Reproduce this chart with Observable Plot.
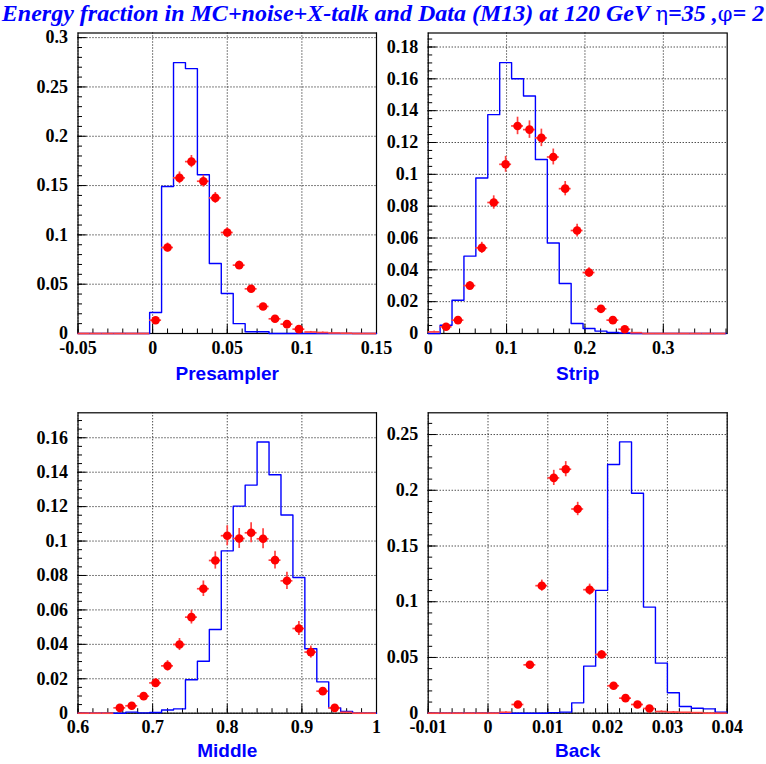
<!DOCTYPE html>
<html><head><meta charset="utf-8">
<script src="https://cdn.jsdelivr.net/npm/d3@7"></script>
<script src="https://cdn.jsdelivr.net/npm/@observablehq/plot@0.6"></script>
<style>
html,body{margin:0;padding:0;background:#fff;}
#root{position:relative;width:766px;height:764px;overflow:hidden;background:#fff;}
#root svg{position:absolute;}
#title{position:absolute;left:0;top:-1px;width:766px;text-align:center;font:italic bold 24px "Liberation Serif","Times New Roman",serif;line-height:28px;color:#0000ff;white-space:nowrap;z-index:5;}
#title .g{font-style:normal;font-weight:normal;font-family:"DejaVu Serif","Liberation Serif",serif;font-size:21px;}
</style></head><body>
<div id="root"><div id="title">Energy fraction in MC+noise+X-talk and Data (M13) at 120 GeV <span class="g">η</span>=35 ,<span class="g">φ</span>= 2</div></div>
<script>
// ---------- Presampler ----------
const preCenters = [-0.046,-0.038,-0.030,-0.022,-0.014,-0.006,0.002,0.010,0.018,0.026,0.034,0.042,0.050,0.058,0.066,0.074,0.082,0.090,0.098,0.106,0.114,0.122,0.130,0.138,0.146];
const preMC   = [0,0,0,0,0,0,0.0213,0.149,0.2747,0.2686,0.161,0.071,0.0405,0.010,0.0017,0.0017,0,0,0,0,0,0,0,0,0];
const preData = [0,0,0,0,0,0,0.0135,0.0872,0.1578,0.1743,0.1544,0.1375,0.1024,0.0693,0.0453,0.0274,0.0149,0.0095,0.0044,0.0015,0.001,0.0005,0.0003,0,0];
const preErr  = [0,0,0,0,0,0,0.002,0.0045,0.006,0.0062,0.006,0.0055,0.0048,0.004,0.003,0.0025,0.0018,0.0015,0.001,0.0006,0.0005,0,0,0,0];
const preXTicks = [-0.05,0,0.05,0.1,0.15];
const preXLabels = ["-0.05","0","0.05","0.1","0.15"];
const preYTicks = [0,0.05,0.1,0.15,0.2,0.25,0.3];
const preYLabels = ["0","0.05","0.1","0.15","0.2","0.25","0.3"];

// ---------- Strip ----------
const stripCenters = [0.0076,0.0228,0.0380,0.0532,0.0684,0.0836,0.0988,0.1140,0.1292,0.1444,0.1596,0.1748,0.1900,0.2052,0.2204,0.2356,0.2508,0.2660,0.2812,0.2964,0.3116,0.3268,0.3420,0.3572,0.3724];
const stripMC   = [0,0.0052,0.0209,0.0486,0.0977,0.1375,0.1702,0.1601,0.1492,0.1093,0.0569,0.0314,0.0063,0.0031,0.0015,0.0006,0.0003,0,0,0,0,0,0,0,0];
const stripData = [0.001,0.0042,0.0084,0.0301,0.0538,0.0823,0.1063,0.1304,0.1281,0.1229,0.1109,0.0910,0.0647,0.0383,0.0155,0.0084,0.0027,0.0005,0,0,0,0,0,0,0];
const stripErr  = [0.0005,0.001,0.0015,0.0025,0.0035,0.0042,0.005,0.0055,0.0055,0.0055,0.005,0.0045,0.004,0.003,0.002,0.0015,0.0008,0,0,0,0,0,0,0,0];
const stripXTicks = [0,0.1,0.2,0.3];
const stripXLabels = ["0","0.1","0.2","0.3"];
const stripYTicks = [0,0.02,0.04,0.06,0.08,0.1,0.12,0.14,0.16,0.18];
const stripYLabels = ["0","0.02","0.04","0.06","0.08","0.1","0.12","0.14","0.16","0.18"];

// ---------- Middle ----------
const midCenters = [0.608,0.624,0.640,0.656,0.672,0.688,0.704,0.720,0.736,0.752,0.768,0.784,0.800,0.816,0.832,0.848,0.864,0.880,0.896,0.912,0.928,0.944,0.960,0.976,0.992];
const midMC   = [0,0,0,0,0.0006,0.0002,0.0004,0.0019,0.0025,0.0194,0.0302,0.0486,0.0943,0.1203,0.1325,0.1575,0.1385,0.1151,0.0788,0.0374,0.0182,0.0031,0.001,0,0];
const midData = [0,0,0,0.0031,0.0043,0.0099,0.0176,0.0275,0.0399,0.0558,0.0723,0.0887,0.1031,0.1015,0.1048,0.1013,0.0889,0.0769,0.0492,0.0355,0.0128,0.0031,0.0005,0,0];
const midErr  = [0,0,0,0.001,0.0012,0.0018,0.0025,0.003,0.0035,0.004,0.0045,0.005,0.0058,0.0058,0.0058,0.0058,0.0052,0.005,0.004,0.0035,0.002,0.001,0,0,0];
const midXTicks = [0.6,0.7,0.8,0.9,1];
const midXLabels = ["0.6","0.7","0.8","0.9","1"];
const midYTicks = [0,0.02,0.04,0.06,0.08,0.1,0.12,0.14,0.16];
const midYLabels = ["0","0.02","0.04","0.06","0.08","0.1","0.12","0.14","0.16"];

// ---------- Back ----------
const backCenters = [-0.009,-0.007,-0.005,-0.003,-0.001,0.001,0.003,0.005,0.007,0.009,0.011,0.013,0.015,0.017,0.019,0.021,0.023,0.025,0.027,0.029,0.031,0.033,0.035,0.037,0.039];
const backMC   = [0,0,0,0,0,0,0,0,0,0,0.0005,0.001,0.0093,0.0422,0.1102,0.2231,0.2434,0.1973,0.0952,0.0449,0.0183,0.006,0.0045,0.0039,0.001];
const backData = [0,0,0,0,0,0,0.0008,0.0078,0.0434,0.1144,0.2111,0.2189,0.1832,0.1108,0.0527,0.0246,0.0135,0.0078,0.0042,0.0015,0.001,0.0008,0.0005,0,0];
const backErr  = [0,0,0,0,0,0,0.0004,0.0015,0.003,0.005,0.0068,0.0068,0.006,0.005,0.0035,0.0025,0.0018,0.0015,0.001,0.0006,0.0005,0,0,0,0];
const backXTicks = [-0.01,0,0.01,0.02,0.03,0.04];
const backXLabels = ["-0.01","0","0.01","0.02","0.03","0.04"];
const backYTicks = [0,0.05,0.1,0.15,0.2,0.25];
const backYLabels = ["0","0.05","0.1","0.15","0.2","0.25"];

const SERIF = '"Liberation Serif","Times New Roman",serif';
const SANS = '"Liberation Sans",Arial,Helvetica,sans-serif';

function panel(o) {
  const rows = o.centers.map((c, i) => ({c, x0: c - o.halfW, x1: c + o.halfW, mc: o.mc[i], v: o.data[i], e: o.err[i]}));
  const step = rows.map(r => ({x: r.x0, y: r.mc}));
  step.push({x: rows[rows.length - 1].x1, y: rows[rows.length - 1].mc});
  const innerH = o.height - o.mT - o.mB, innerW = o.width - o.mL - o.mR;
  const ymax = o.yDomain[1];
  const xMinor = d3.range(o.xDomain[0], o.xDomain[1] + 1e-9, o.xMinorStep).map(v => +v.toFixed(6));
  const yMinor = d3.range(0, ymax + 1e-9, o.yMinorStep).map(v => +v.toFixed(6));
  const svg = Plot.plot({
    width: o.width, height: o.height,
    marginLeft: o.mL, marginRight: o.mR, marginTop: o.mT, marginBottom: o.mB,
    x: {domain: o.xDomain},
    y: {domain: o.yDomain},
    style: {background: "transparent", overflow: "visible"},
    marks: [
      Plot.gridX(o.xTicks, {stroke: "black", strokeOpacity: 1, strokeDasharray: "1,2"}),
      Plot.gridY(o.yTicks, {stroke: "black", strokeOpacity: 1, strokeDasharray: "1,2"}),
      Plot.tickX(xMinor, {x: d => d, insetTop: innerH - 4.5, stroke: "black"}),
      Plot.tickX(o.xTicks, {x: d => d, insetTop: innerH - 9, stroke: "black"}),
      Plot.tickY(yMinor, {y: d => d, insetRight: innerW - 4.5, stroke: "black"}),
      Plot.tickY(o.yTicks, {y: d => d, insetRight: innerW - 9, stroke: "black"}),
      Plot.frame({stroke: "black", strokeWidth: 1.2}),
      Plot.axisX(o.xTicks, {tickSize: 0, tickPadding: 7.5, label: null,
        tickFormat: d => o.xLabels[o.xTicks.indexOf(d)],
        fontSize: 18, fontWeight: "bold", fontFamily: SERIF, fill: "black"}),
      Plot.axisY(o.yTicks, {tickSize: 0, tickPadding: 10, label: null,
        tickFormat: d => o.yLabels[o.yTicks.indexOf(d)],
        fontSize: 18, fontWeight: "bold", fontFamily: SERIF, fill: "black"}),
      Plot.lineY(step, {x: "x", y: "y", curve: "step-after", stroke: "#0000ff", strokeWidth: 1.4}),
      Plot.ruleY(rows, {x1: "x0", x2: "x1", y: "v", stroke: "#ff4040", strokeWidth: 1.7}),
      Plot.ruleX(rows.filter(r => r.e > 0), {x: "c", y1: r => r.v - r.e, y2: r => r.v + r.e, stroke: "#ff4040", strokeWidth: 1.7}),
      Plot.dot(rows.filter(r => r.v / ymax > 0.01), {x: "c", y: "v", r: 4.3, fill: "#ff0000", stroke: "none"}),
      Plot.text([o.title], {frameAnchor: "bottom", dy: o.titleDy, text: d => d, lineAnchor: "middle",
        fill: "#0000ff", fontSize: 19, fontWeight: "bold", fontFamily: SANS})
    ]
  });
  svg.style.left = o.left + "px";
  svg.style.top = o.top + "px";
  document.getElementById("root").appendChild(svg);
}

panel({left: 0, top: 0, width: 383, height: 382, mL: 77.5, mR: 7, mT: 32.5, mB: 49,
  xDomain: [-0.05, 0.15], yDomain: [0, 0.3047], xMinorStep: 0.01, yMinorStep: 0.01,
  centers: preCenters, halfW: 0.004, mc: preMC, data: preData, err: preErr,
  xTicks: preXTicks, xLabels: preXLabels, yTicks: preYTicks, yLabels: preYLabels,
  title: "Presampler", titleDy: 40});

panel({left: 383, top: 0, width: 383, height: 382, mL: 44.7, mR: 39.3, mT: 32.5, mB: 49,
  xDomain: [0, 0.3815], yDomain: [0, 0.1888], xMinorStep: 0.02, yMinorStep: 0.005,
  centers: stripCenters, halfW: 0.0076, mc: stripMC, data: stripData, err: stripErr,
  xTicks: stripXTicks, xLabels: stripXLabels, yTicks: stripYTicks, yLabels: stripYLabels,
  title: "Strip", titleDy: 40});

panel({left: 0, top: 382, width: 383, height: 382, mL: 77.5, mR: 7, mT: 30.3, mB: 51.3,
  xDomain: [0.6, 1.0], yDomain: [0, 0.1745], xMinorStep: 0.02, yMinorStep: 0.005,
  centers: midCenters, halfW: 0.008, mc: midMC, data: midData, err: midErr,
  xTicks: midXTicks, xLabels: midXLabels, yTicks: midYTicks, yLabels: midYLabels,
  title: "Middle", titleDy: 38});

panel({left: 383, top: 382, width: 383, height: 382, mL: 44.7, mR: 39.3, mT: 30.3, mB: 51.3,
  xDomain: [-0.01, 0.04], yDomain: [0, 0.2695], xMinorStep: 0.002, yMinorStep: 0.01,
  centers: backCenters, halfW: 0.001, mc: backMC, data: backData, err: backErr,
  xTicks: backXTicks, xLabels: backXLabels, yTicks: backYTicks, yLabels: backYLabels,
  title: "Back", titleDy: 38});
</script></body></html>
